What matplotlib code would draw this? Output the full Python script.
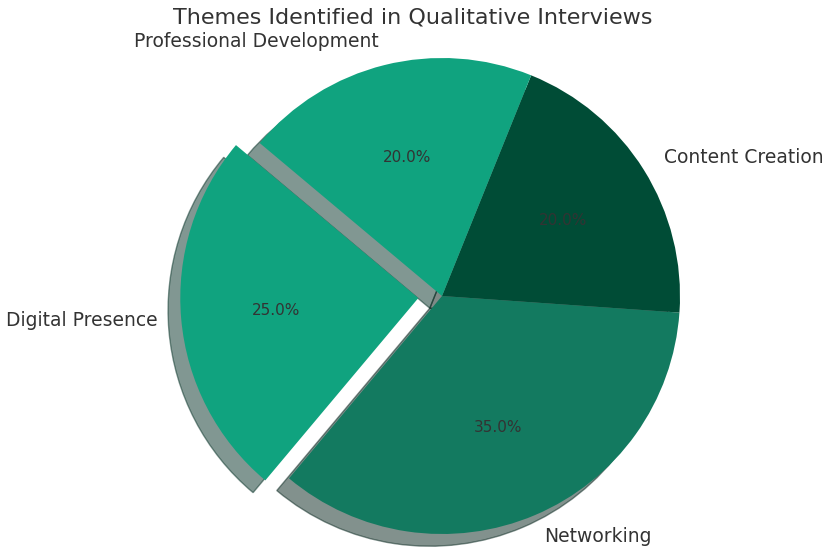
import matplotlib.pyplot as plt

# Share of each theme across the interviews (%)
themes = ['Digital Presence', 'Networking', 'Content Creation', 'Professional Development']
shares = [25, 35, 20, 20]
colors = ['#10a37f', '#137a60', '#004c36', '#10a37f']
explode = [0.1, 0, 0, 0]

plt.rcParams['text.color'] = '#333333'

fig = plt.figure(figsize=(8.26, 5.53), dpi=100)
ax = fig.add_axes([0, 0, 1, 1])

wedges, texts, autotexts = ax.pie(
    shares, labels=themes, colors=colors, explode=explode,
    autopct='%1.1f%%', startangle=140,
    shadow={'ox': -0.037, 'oy': -0.037},
    textprops={'fontsize': 13.5, 'color': '#333333'},
)
for t in autotexts:
    t.set_fontsize(11)

# keep the pie round and put it where it belongs on the canvas
ax.set_aspect('auto')
ax.set_xlim(-442 / 238, 384 / 238)
ax.set_ylim(-257 / 238, 296 / 238)
ax.axis('off')

fig.suptitle('Themes Identified in Qualitative Interviews', fontsize=16,
             color='#333333', y=1 - 18 / 553, va='center')

fig.savefig('out.png', dpi=100)
